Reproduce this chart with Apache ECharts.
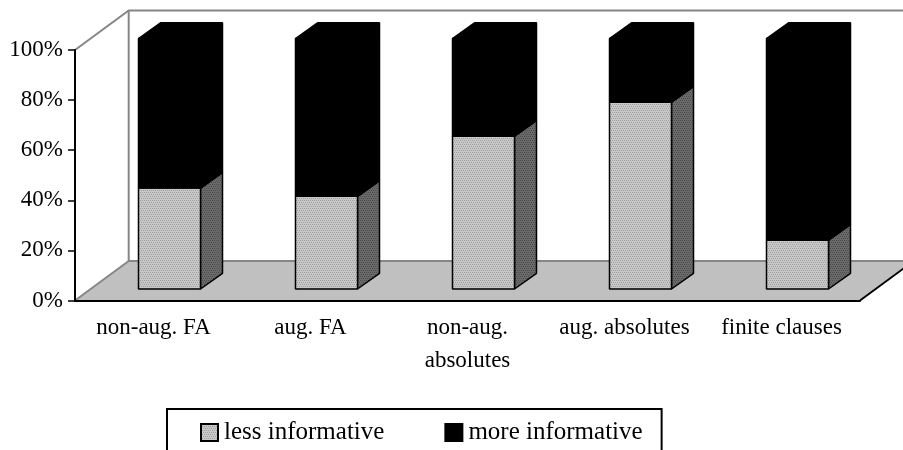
<!DOCTYPE html>
<html>
<head>
<meta charset="utf-8">
<title>chart</title>
<style>
html,body{margin:0;padding:0;background:#fff;overflow:hidden}
#main{width:903px;height:450px}
</style>
<script src="https://cdn.jsdelivr.net/npm/echarts@6/dist/echarts.min.js"></script>
</head>
<body>
<div id="main"></div>
<script>
var categories = ['non-aug. FA', 'aug. FA', 'non-aug.\nabsolutes', 'aug. absolutes', 'finite clauses'];
var lessInformative = [40.3, 37, 61, 74.6, 19.5];
var moreInformative = [59.7, 63, 39, 25.4, 80.5];
var yTicks = [0, 100, 20];

var serifFont = '"Liberation Serif", serif';

// fake 3d offsets, px
var wallDx = 53.7, wallDy = -39.5;
var barDx = 16, barDy = -11.5;
var depthDx = 22, depthDy = -15.7;
var barRatio = 0.395;

// dotted fills
function dots(light, dark) {
    var c = document.createElement('canvas');
    c.width = 4; c.height = 4;
    var ctx = c.getContext('2d');
    ctx.fillStyle = light;
    ctx.fillRect(0, 0, 4, 4);
    ctx.fillStyle = dark;
    ctx.fillRect(0, 0, 1, 1);
    ctx.fillRect(2, 0, 1, 1);
    ctx.fillRect(1, 2, 1, 1);
    ctx.fillRect(3, 2, 1, 1);
    return {image: c, repeat: 'repeat'};
}
var lessFront = dots('#c8c8c8', '#a0a0a0');
var lessSide = dots('#6a6a6a', '#4c4c4c');

function poly(points, fill, stroke, width) {
    return {
        type: 'polygon',
        shape: {points: points},
        style: {fill: fill, stroke: stroke, lineWidth: width, lineJoin: 'bevel'}
    };
}

function renderRoom(params, api) {
    var g = params.coordSys;
    var x0 = g.x, x1 = g.x + g.width, y0 = g.y, y1 = g.y + g.height;
    return {
        type: 'group',
        silent: true,
        children: [
            poly([[x0, y1], [x0 + wallDx, y1 + wallDy], [x1 + wallDx, y1 + wallDy], [x1, y1]], '#c0c0c0', null, 0),
            {type: 'polyline', shape: {points: [[x0, y0], [x0 + wallDx, y0 + wallDy], [x1 + wallDx, y0 + wallDy]]},
                style: {fill: null, stroke: '#868686', lineWidth: 2}},
            {type: 'polyline', shape: {points: [[x0 + wallDx, y0 + wallDy], [x0 + wallDx, y1 + wallDy], [x1 + wallDx, y1 + wallDy]]},
                style: {fill: null, stroke: '#868686', lineWidth: 2}},
            {type: 'line', shape: {x1: x0, y1: y1, x2: x0 + wallDx, y2: y1 + wallDy},
                style: {stroke: '#868686', lineWidth: 2}},
            {type: 'line', shape: {x1: x1, y1: y1, x2: x1 + wallDx, y2: y1 + wallDy},
                style: {stroke: '#000', lineWidth: 2}}
        ]
    };
}

function makeBar(front, side, top, stroke) {
    return function (params, api) {
        var low = api.coord([api.value(0), api.value(1)]);
        var high = api.coord([api.value(0), api.value(2)]);
        var w = api.size([1, 0])[0] * barRatio;
        var l = low[0] - w / 2 + barDx, r = l + w;
        var b = low[1] + barDy, t = high[1] + barDy;
        return {
            type: 'group',
            children: [
                poly([[r, b], [r + depthDx, b + depthDy], [r + depthDx, t + depthDy], [r, t]], side, stroke, 1.5),
                poly([[l, t], [l + depthDx, t + depthDy], [r + depthDx, t + depthDy], [r, t]], top, stroke, 1.5),
                poly([[l, b], [r, b], [r, t], [l, t]], front, stroke, 1.5)
            ]
        };
    };
}

function barData(from, to) {
    return categories.map(function (c, i) {
        return [i, from[i], to[i]];
    });
}

var lessBase = lessInformative.map(function () { return 0; });
var stackTop = lessInformative.map(function (v, i) { return v + moreInformative[i]; });

var myChart = echarts.init(document.getElementById('main'));

var option = {
    animation: false,
    backgroundColor: '#fff',
    textStyle: {fontFamily: serifFont, color: '#000'},
    grid: {left: 75, top: 50, width: 785, height: 250.5},
    legend: {
        left: 167,
        top: 409,
        icon: 'rect',
        data: ['less informative', 'more informative'],
        itemWidth: 17,
        itemHeight: 17,
        itemGap: 60,
        padding: [11, 19, 18, 33],
        borderColor: '#000',
        borderWidth: 2,
        textStyle: {fontFamily: serifFont, fontSize: 25, color: '#000', padding: [0, 0, 0, 1]}
    },
    xAxis: {
        type: 'category',
        data: categories,
        axisLine: {lineStyle: {color: '#000', width: 2}},
        axisTick: {length: 6, lineStyle: {color: '#000', width: 1.5}},
        axisLabel: {
            interval: 0,
            margin: 11,
            color: '#000',
            fontFamily: serifFont,
            fontSize: 23,
            lineHeight: 33
        }
    },
    yAxis: {
        type: 'value',
        min: yTicks[0],
        max: yTicks[1],
        interval: yTicks[2],
        axisLine: {show: true, lineStyle: {color: '#000', width: 2}},
        axisTick: {show: true, length: 7, lineStyle: {color: '#000', width: 1.5}},
        splitLine: {show: false},
        axisLabel: {
            formatter: '{value}%',
            margin: 12,
            color: '#000',
            fontFamily: serifFont,
            fontSize: 23
        }
    },
    series: [
        {
            name: 'room',
            type: 'custom',
            silent: true,
            z: 0,
            renderItem: renderRoom,
            data: [[0, 0, 0]],
            encode: {x: 0, y: 1}
        },
        {
            name: 'less informative',
            type: 'custom',
            z: 2,
            renderItem: makeBar(lessFront, lessSide, '#000', '#000'),
            itemStyle: {color: lessFront, borderColor: '#000', borderWidth: 1.5},
            data: barData(lessBase, lessInformative),
            encode: {x: 0, y: [1, 2]}
        },
        {
            name: 'more informative',
            type: 'custom',
            z: 2,
            renderItem: makeBar('#000', '#000', '#000', '#000'),
            itemStyle: {color: '#000', borderColor: '#000', borderWidth: 1.5},
            data: barData(lessInformative, stackTop),
            encode: {x: 0, y: [1, 2]}
        }
    ]
};

myChart.setOption(option);
</script>
</body>
</html>
